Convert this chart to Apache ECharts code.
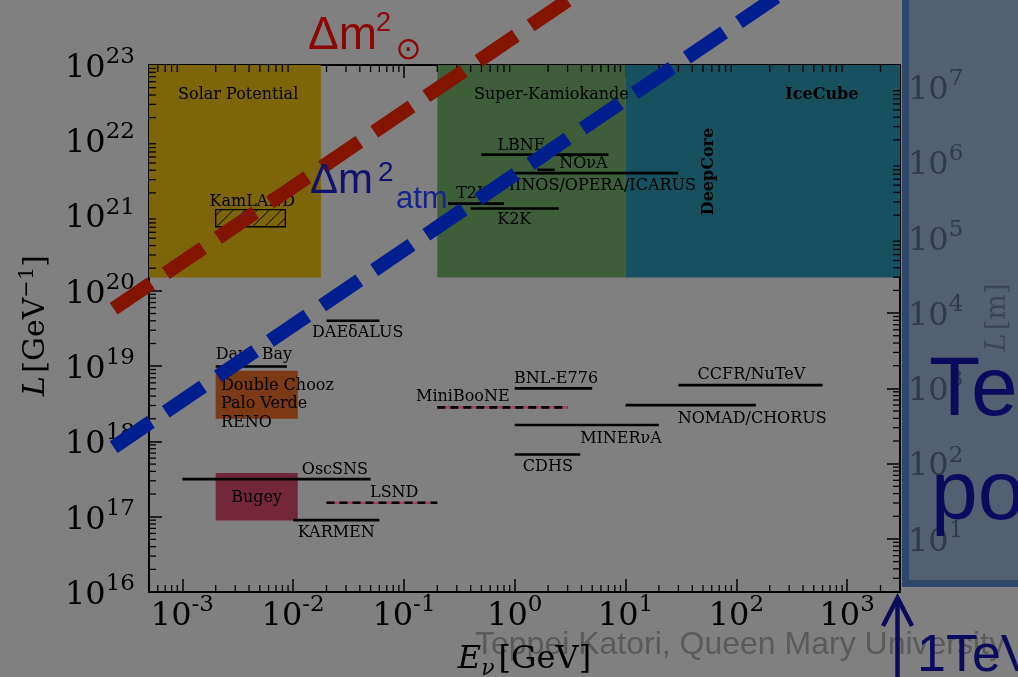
<!DOCTYPE html>
<html><head><meta charset="utf-8">
<script src="https://cdn.jsdelivr.net/npm/echarts@6/dist/echarts.min.js"></script>
<style>html,body{margin:0;padding:0;background:#808080}#c{width:1018px;height:677px}</style>
</head><body><div id="c"></div>
<script>
// ---------------- data ----------------
// x: neutrino energy E [GeV], y: baseline L [GeV^-1]
const xRange = [5e-4, 3000];
const yRange = [1e16, 1e23];
const mPerInvGeV = 1.973e-16;              // L[m] = L[GeV^-1] * 1.973e-16
// shaded regions: [Emin, Emax, Lmin, Lmax]
const regionNames = ['Solar Potential', 'Super-Kamiokande', 'IceCube', 'Double Chooz/Palo Verde/RENO', 'Bugey'];
const regionE = [[5e-4, 0.0178], [0.2, 10], [10, 3000], [2e-3, 0.011], [2e-3, 0.011]];
const regionL = [[1.5e20, 1e23], [1.5e20, 1e23], [1.5e20, 1e23], [2.0e18, 8.7e18], [8.9e16, 3.8e17]];
// hatched region (KamLAND)
const kamlandE = [2e-3, 8.5e-3];
const kamlandL = [7.1e20, 1.2e21];
// experiments drawn as solid segments: [Emin, Emax] at L
const segNames = ['Daya Bay', 'OscSNS', 'KARMEN', 'DAEδALUS', 'BNL-E776', 'MINERνA', 'CDHS', 'NOMAD/CHORUS', 'CCFR/NuTeV', 'LBNE', 'NOνA', 'MINOS/OPERA/ICARUS', 'T2K', 'K2K'];
const segE = [[2e-3, 8.8e-3], [1e-3, 0.05], [0.01, 0.06], [0.02, 0.06], [1, 5], [1, 20], [1, 3.9], [10, 150], [30, 600], [0.5, 7], [1.6, 2.3], [1, 30], [0.25, 0.8], [0.4, 2.5]];
const segL = [9.9e18, 3.16e17, 9.0e16, 4.0e19, 5.06e18, 1.65e18, 6.7e17, 3.04e18, 5.6e18, 6.45e21, 4.05e21, 3.66e21, 1.44e21, 1.24e21];
// dashed experiments (LSND, MiniBooNE)
const dashNames = ['LSND', 'MiniBooNE'];
const dashE = [[0.02, 0.2], [0.2, 3]];
const dashL = [1.53e17, 2.83e18];
// oscillation maxima lines (two read points each: [E0, L0, E1, L1])
const solarLine = [2.4e-4, 5.8e19, 3, 7.2e23];
const atmLine = [2.4e-4, 8.4e17, 300, 1.05e24];
// experiment labels: text, anchor E, anchor L
const labelTexts = ['Solar Potential', 'Super-Kamiokande', 'KamLAND', 'LBNE', 'NOνA', 'MINOS/OPERA/ICARUS', 'T2K', 'K2K', 'DAEδALUS', 'Daya Bay', 'BNL-E776', 'MiniBooNE', 'CCFR/NuTeV', 'NOMAD/CHORUS', 'MINERνA', 'CDHS', 'OscSNS', 'Bugey', 'LSND', 'KARMEN'];
const labelE = [3.19e-3, 2.14, 4.28e-3, 1.15, 4.16, 5.56, 0.416, 0.99, 0.0383, 4.43e-3, 2.36, 0.34, 137, 139, 9.1, 1.99, 0.0238, 4.68e-3, 0.0817, 0.0245];
const labelL = [4.05e22, 4.05e22, 1.54e21, 8.5e21, 4.87e21, 2.51e21, 1.95e21, 8.8e20, 2.75e19, 1.42e19, 6.74e18, 3.89e18, 7.7e18, 2.02e18, 1.09e18, 4.66e17, 4.17e17, 1.77e17, 2.07e17, 6.08e16];
const reactorTexts = ['Double Chooz', 'Palo Verde', 'RENO'];
const reactorE = 2.23e-3;
const reactorL = [5.4e18, 3.14e18, 1.79e18];
const boldTexts = ['IceCube', 'DeepCore'];
const boldE = [592, 56.2];
const boldL = [4.05e22, 3.85e21];

// ---------------- styles ----------------
const regionColors = ['#7e650a', '#3e5e3a', '#17505f', '#7b3a14', '#72283a'];
const oscColors = ['#821400', '#001e8e'];
const SERIF = '"DejaVu Serif", serif';
const SANS = '"Liberation Sans", Arial, sans-serif';

function powLabel(v) {
  const e = Math.round(Math.log10(v));
  return '{b|10}{s|' + (e < 0 ? '-' + (-e) : e) + '}';
}
function richFor(color) {
  return {
    b: { fontSize: 32, fontFamily: SERIF, color: color, lineHeight: 34, verticalAlign: 'bottom' },
    s: { fontSize: 23, fontFamily: SERIF, color: color, verticalAlign: 'top', padding: [0, 0, 16, 0] }
  };
}
const tickStyle = { inside: true, length: 13, lineStyle: { color: '#000', width: 1.5 } };
const axisLineStyle = { show: true, lineStyle: { color: '#000', width: 2 } };

// minor tick positions (2..9 x 10^n) of the log axes
function minorTicks(lo, hi) {
  const out = [];
  for (let n = Math.floor(Math.log10(lo)); n <= Math.ceil(Math.log10(hi)); n++) {
    for (let m = 2; m <= 9; m++) {
      const v = m * Math.pow(10, n);
      if (v > lo && v < hi) out.push(v);
    }
  }
  return out;
}

const chart = echarts.init(document.getElementById('c'), null, { renderer: 'canvas' });

const boxData = regionE.map((e, i) => [e[0], e[1], regionL[i][0], regionL[i][1], i]);
const segData = segE.map((e, i) => [e[0], e[1], segL[i]]);
const dashData = dashE.map((e, i) => [e[0], e[1], dashL[i]]);
const labelData = labelTexts.map((t, i) => [labelE[i], labelL[i], i]);
const reactorData = reactorTexts.map((t, i) => [reactorE, reactorL[i], i]);
const boldData = boldTexts.map((t, i) => [boldE[i], boldL[i], i]);
const xMinor = minorTicks(xRange[0], xRange[1]).map(v => [v, 0]);
const yMinor = minorTicks(yRange[0], yRange[1]).map(v => [v, 1]);
const ymMinor = minorTicks(yRange[0] * mPerInvGeV, yRange[1] * mPerInvGeV);
const oscData = [solarLine.concat([0]), atmLine.concat([1])];

function segRender(color, dash, width) {
  return function (params, api) {
    const a = api.coord([api.value(0), api.value(2)]);
    const b = api.coord([api.value(1), api.value(2)]);
    return { type: 'line', shape: { x1: a[0], y1: a[1], x2: b[0], y2: b[1] },
      style: { stroke: color, lineWidth: width, lineDash: dash } };
  };
}
const ML = 7; // minor tick length
const minorStyle = { stroke: '#000', lineWidth: 1.3 };

// log-axis pixel position that continues past the axis ends (the lines leave the frame)
function extCoord(api, E, L) {
  const bl = api.coord([xRange[0], yRange[0]]);
  const tr = api.coord([xRange[1], yRange[1]]);
  const lx = Math.log10, fx = (lx(E) - lx(xRange[0])) / (lx(xRange[1]) - lx(xRange[0]));
  const fy = (lx(L) - lx(yRange[0])) / (lx(yRange[1]) - lx(yRange[0]));
  return [bl[0] + fx * (tr[0] - bl[0]), bl[1] + fy * (tr[1] - bl[1])];
}

const option = {
  backgroundColor: '#808080',
  animation: false,
  grid: { left: 149, right: 118, top: 65, bottom: 85, containLabel: false, outerBoundsMode: 'none' },
  xAxis: [
    { type: 'log', min: xRange[0], max: xRange[1], position: 'bottom',
      axisLine: axisLineStyle, axisTick: tickStyle, splitLine: { show: false },
      axisLabel: { formatter: powLabel, rich: richFor('#000'), margin: 2, showMinLabel: false, showMaxLabel: false },
      name: '{i|E}{u|ν}{r|[GeV]}', nameLocation: 'middle', nameGap: 52,
      nameTextStyle: { rich: {
        i: { fontSize: 32, fontFamily: SERIF, fontStyle: 'italic', color: '#000', verticalAlign: 'top' },
        u: { fontSize: 22, fontFamily: SERIF, fontStyle: 'italic', color: '#000', verticalAlign: 'bottom', padding: [14, 4, 0, 0] },
        r: { fontSize: 32, fontFamily: SERIF, color: '#000', verticalAlign: 'top' } } } },
    { type: 'log', min: xRange[0], max: xRange[1], position: 'top',
      axisLine: axisLineStyle, axisTick: tickStyle, splitLine: { show: false },
      axisLabel: { show: false } }
  ],
  yAxis: [
    { type: 'log', min: yRange[0], max: yRange[1], position: 'left',
      axisLine: axisLineStyle, axisTick: tickStyle, splitLine: { show: false },
      axisLabel: { formatter: powLabel, rich: richFor('#000'), margin: 14 },
      name: '{i|L} {r|[GeV}{s|−1}{r|]}', nameLocation: 'middle', nameGap: 98, nameRotate: 90,
      nameTextStyle: { padding: [0, 0, 0, 6], rich: {
        i: { fontSize: 30, fontFamily: SERIF, fontStyle: 'italic', color: '#000', verticalAlign: 'bottom' },
        r: { fontSize: 30, fontFamily: SERIF, color: '#000', verticalAlign: 'bottom' },
        s: { fontSize: 21, fontFamily: SERIF, color: '#000', verticalAlign: 'top', padding: [0, 0, 13, 0] } } } },
    { type: 'log', min: yRange[0] * mPerInvGeV, max: yRange[1] * mPerInvGeV, position: 'right',
      axisLine: axisLineStyle, axisTick: tickStyle, splitLine: { show: false },
      axisLabel: { formatter: powLabel, rich: richFor('#2f3b48'), margin: 8, showMinLabel: false, showMaxLabel: false },
      name: '{i|L} {r|[m]}', nameLocation: 'middle', nameGap: 84, nameRotate: 90,
      nameTextStyle: { padding: [0, 0, 0, 22], rich: {
        i: { fontSize: 27, fontFamily: SERIF, fontStyle: 'italic', color: '#3a4654' },
        r: { fontSize: 27, fontFamily: SERIF, color: '#3a4654' } } } }
  ],
  series: [
    { type: 'custom', name: 'regions', xAxisIndex: 0, yAxisIndex: 0, z: 1, data: boxData,
      renderItem: function (params, api) {
        const p0 = api.coord([api.value(0), api.value(3)]);
        const p1 = api.coord([api.value(1), api.value(2)]);
        return { type: 'rect', shape: { x: p0[0], y: p0[1], width: p1[0] - p0[0], height: p1[1] - p0[1] },
          style: { fill: regionColors[api.value(4)] } };
      } },
    { type: 'custom', name: 'KamLAND', z: 2, data: [[kamlandE[0], kamlandE[1], kamlandL[0], kamlandL[1]]],
      renderItem: function (params, api) {
        const p0 = api.coord([api.value(0), api.value(3)]);
        const p1 = api.coord([api.value(1), api.value(2)]);
        const x0 = p0[0], y0 = p0[1], w = p1[0] - p0[0], h = p1[1] - p0[1];
        const children = [{ type: 'rect', shape: { x: x0, y: y0, width: w, height: h },
          style: { fill: null, stroke: '#000', lineWidth: 1.3 } }];
        for (let k = -h + 6; k < w; k += 12) {
          const t0 = Math.max(0, -k), t1 = Math.min(h, w - k);
          if (t1 <= t0) continue;
          children.push({ type: 'line', shape: { x1: x0 + k + t0, y1: y0 + h - t0, x2: x0 + k + t1, y2: y0 + h - t1 },
            style: { stroke: '#000', lineWidth: 1 } });
        }
        return { type: 'group', children: children };
      } },
    { type: 'custom', name: 'minor ticks x / y', z: 5, data: xMinor.concat(yMinor),
      renderItem: function (params, api) {
        const v = api.value(0);
        if (api.value(1) === 0) {
          const b = api.coord([v, yRange[0]]), t = api.coord([v, yRange[1]]);
          return { type: 'group', children: [
            { type: 'line', shape: { x1: b[0], y1: b[1], x2: b[0], y2: b[1] - ML }, style: minorStyle },
            { type: 'line', shape: { x1: t[0], y1: t[1], x2: t[0], y2: t[1] + ML }, style: minorStyle }] };
        }
        const l = api.coord([xRange[0], v]);
        return { type: 'line', shape: { x1: l[0], y1: l[1], x2: l[0] + ML, y2: l[1] }, style: minorStyle };
      } },
    { type: 'custom', name: 'minor ticks L[m]', xAxisIndex: 0, yAxisIndex: 1, z: 5, data: ymMinor,
      renderItem: function (params, api) {
        const r = api.coord([xRange[1], api.value(0)]);
        return { type: 'line', shape: { x1: r[0], y1: r[1], x2: r[0] - ML, y2: r[1] }, style: minorStyle };
      } },
    { type: 'custom', name: 'experiments', z: 3, data: segData, renderItem: segRender('#000', null, 2.6) },
    { type: 'custom', name: 'dashBase', z: 3, data: dashData, renderItem: segRender('#9a4860', null, 2.6) },
    { type: 'custom', name: 'dashTop', z: 3, data: dashData, renderItem: segRender('#000', [8, 5], 2.6) },
    { type: 'custom', name: 'labels', z: 4, data: labelData,
      renderItem: function (params, api) {
        const p = api.coord([api.value(0), api.value(1)]);
        return { type: 'text', x: p[0], y: p[1], style: { text: labelTexts[api.value(2)], font: '16px ' + SERIF,
          fill: '#000', align: 'center', verticalAlign: 'middle' } };
      } },
    { type: 'custom', name: 'reactorLabels', z: 4, data: reactorData,
      renderItem: function (params, api) {
        const p = api.coord([api.value(0), api.value(1)]);
        return { type: 'text', x: p[0], y: p[1], style: { text: reactorTexts[api.value(2)], font: '16px ' + SERIF,
          fill: '#000', align: 'left', verticalAlign: 'middle' } };
      } },
    { type: 'custom', name: 'boldLabels', z: 4, data: boldData,
      renderItem: function (params, api) {
        const p = api.coord([api.value(0), api.value(1)]);
        const i = api.value(2);
        return { type: 'text', x: p[0], y: p[1], rotation: i === 1 ? Math.PI / 2 : 0,
          style: { text: boldTexts[i], font: 'bold 16px ' + SERIF, fill: '#000', align: 'center', verticalAlign: 'middle' } };
      } },
    { type: 'custom', name: 'Δm² lines', z: 6, data: oscData,
      renderItem: function (params, api) {
        const a = extCoord(api, api.value(0), api.value(1));
        const b = extCoord(api, api.value(2), api.value(3));
        return { type: 'line', shape: { x1: a[0], y1: a[1], x2: b[0], y2: b[1] },
          style: { stroke: oscColors[api.value(4)], lineWidth: 14, lineDash: [45, 18], lineCap: 'butt' } };
      } }
  ],
  graphic: [
    { type: 'rect', z: -10, shape: { x: 905.5, y: -10, width: 130, height: 593.5 },
      style: { fill: '#526071', stroke: '#2d4869', lineWidth: 7 } },
    { type: 'text', z: 100, x: 308, y: 36.4, style: { text: 'Δm', font: '46px ' + SANS, fill: '#8c0606', verticalAlign: 'middle' } },
    { type: 'text', z: 100, x: 376, y: 23.7, style: { text: '2', font: '27px ' + SANS, fill: '#8c0606', verticalAlign: 'middle' } },
    { type: 'text', z: 100, x: 408.4, y: 51.3, style: { text: '⊙', font: '31px "DejaVu Sans"', fill: '#8c0606', align: 'center', verticalAlign: 'middle' } },
    { type: 'text', z: 100, x: 310, y: 181.7, style: { text: 'Δm', font: '42px ' + SANS, fill: '#10126e', verticalAlign: 'middle' } },
    { type: 'text', z: 100, x: 378, y: 173.3, style: { text: '2', font: '28px ' + SANS, fill: '#10126e', verticalAlign: 'middle' } },
    { type: 'text', z: 100, x: 396, y: 199, style: { text: 'atm', font: '31px ' + SANS, fill: '#16248a', verticalAlign: 'middle' } },
    { type: 'text', z: 100, x: 929, y: 391.7, style: { text: 'Te', font: '84px ' + SANS, fill: '#0b0b5e', verticalAlign: 'middle' } },
    { type: 'text', z: 100, x: 931, y: 496, style: { text: 'po', font: '84px ' + SANS, fill: '#0b0b5e', verticalAlign: 'middle' } },
    { type: 'text', z: -5, x: 475, y: 645, style: { text: 'Teppei Katori, Queen Mary University', font: '32px ' + SANS, fill: '#5a5a5a', verticalAlign: 'middle' } },
    { type: 'text', z: 100, x: 917, y: 657, style: { text: '1TeV', font: '52px ' + SANS, fill: '#0b0b5e', verticalAlign: 'middle' } },
    { type: 'polyline', z: 100, shape: { points: [[883, 626], [897.5, 598], [912, 626]] }, style: { stroke: '#0b0b5e', lineWidth: 4.5, fill: null } },
    { type: 'line', z: 100, shape: { x1: 897.5, y1: 599, x2: 897.5, y2: 690 }, style: { stroke: '#0b0b5e', lineWidth: 4.5 } }
  ]
};
chart.setOption(option);
</script></body></html>
